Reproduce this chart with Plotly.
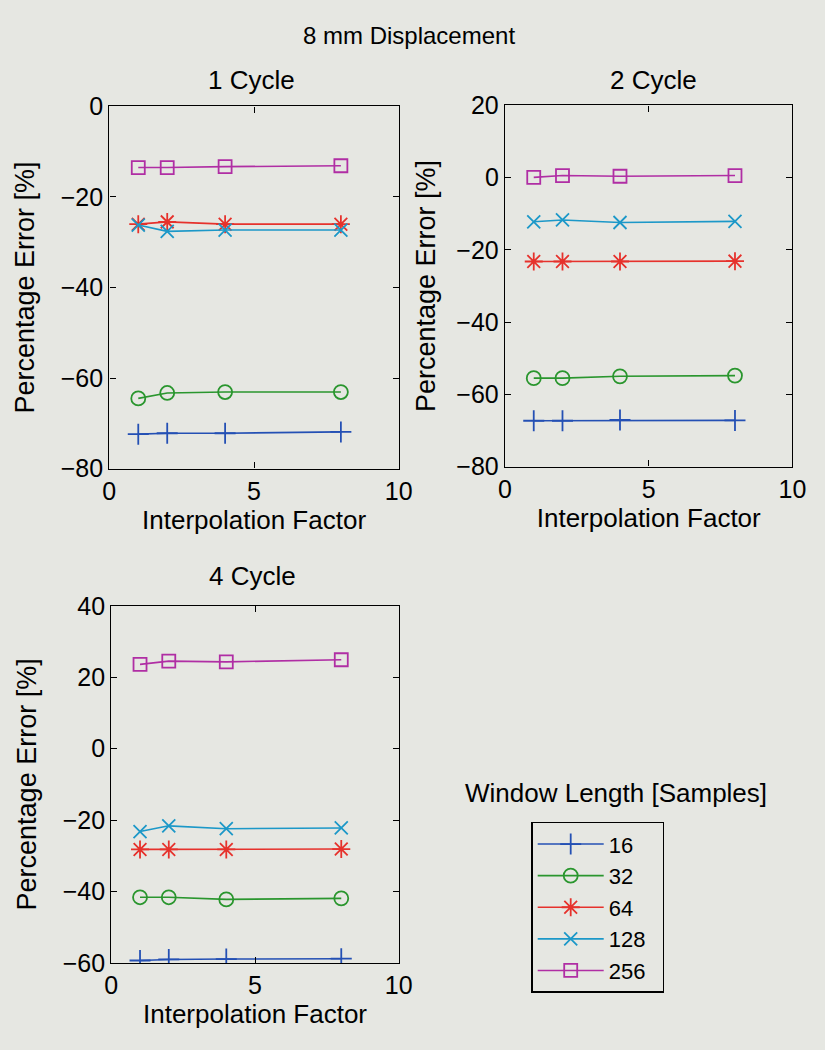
import plotly.graph_objects as go

# Interpolation factors on the x axis
interp = [1, 2, 4, 8]

# Window lengths (samples) and their styles
windows = ["16", "32", "64", "128", "256"]
colors = ["#2450b4", "#2a962e", "#e6322c", "#1c98c8", "#b02ea4"]
symbols = ["cross-thin", "circle-open", "asterisk-open", "x-thin", "square-open"]
marker_sizes = [15, 14, 15, 13, 13]

# Percentage error [%] per window length, 1 cycle
err_1cycle_16 = [-72.4, -72.2, -72.2, -71.9]
err_1cycle_32 = [-64.5, -63.3, -63.1, -63.1]
err_1cycle_64 = [-26.0, -25.5, -26.0, -26.0]
err_1cycle_128 = [-26.2, -27.6, -27.3, -27.3]
err_1cycle_256 = [-13.5, -13.5, -13.3, -13.1]

# 2 cycle
err_2cycle_16 = [-67.3, -67.3, -67.1, -67.2]
err_2cycle_32 = [-55.5, -55.5, -55.0, -54.8]
err_2cycle_64 = [-23.2, -23.2, -23.2, -23.1]
err_2cycle_128 = [-12.2, -11.7, -12.4, -12.1]
err_2cycle_256 = [0.1, 0.6, 0.4, 0.6]

# 4 cycle
err_4cycle_16 = [-59.3, -59.0, -58.9, -58.8]
err_4cycle_32 = [-41.6, -41.6, -42.2, -41.9]
err_4cycle_64 = [-28.2, -28.2, -28.2, -28.1]
err_4cycle_128 = [-23.2, -21.6, -22.4, -22.2]
err_4cycle_256 = [23.6, 24.5, 24.3, 24.9]

panels = [
    ("1 Cycle", "x", "y", [err_1cycle_16, err_1cycle_32, err_1cycle_64, err_1cycle_128, err_1cycle_256]),
    ("2 Cycle", "x2", "y2", [err_2cycle_16, err_2cycle_32, err_2cycle_64, err_2cycle_128, err_2cycle_256]),
    ("4 Cycle", "x3", "y3", [err_4cycle_16, err_4cycle_32, err_4cycle_64, err_4cycle_128, err_4cycle_256]),
]

W, H = 825, 1050
BG = "#e6e7e2"
FONT = "Liberation Sans, Arial, sans-serif"

fig = go.Figure()
for p, (name, xa, ya, series) in enumerate(panels):
    for i, vals in enumerate(series):
        fig.add_trace(go.Scatter(
            x=interp, y=vals, xaxis=xa, yaxis=ya,
            mode="lines+markers", name=windows[i] + "\u00a0\u00a0",
            legendgroup=windows[i], showlegend=(p == 0),
            line=dict(color=colors[i], width=1.6),
            marker=dict(symbol=symbols[i], size=marker_sizes[i], color=colors[i],
                        line=dict(color=colors[i], width=1.8)),
        ))

def px_x(v):
    return v / W

def px_y(v):
    return 1 - v / H

axis_common = dict(
    showgrid=False, zeroline=False, showline=True, linecolor="black",
    linewidth=1.4, mirror="ticks", ticks="inside", ticklen=6,
    tickcolor="black", tickfont=dict(size=25, color="black", family=FONT),
)

# Panel boxes in pixels: (left, right, top, bottom)
boxes = [(105, 402, 95, 467), (511, 806, 94, 465), (107, 402, 608, 975)]
yranges = [[-80, 0], [-80, 20], [-60, 40]]
ystandoff = [18, 12, 18]
layout_axes = {}
for k, (l, r, t, b) in enumerate(boxes):
    sfx = "" if k == 0 else str(k + 1)
    layout_axes["xaxis" + sfx] = dict(
        axis_common, domain=[px_x(l), px_x(r)], range=[0, 10],
        tickvals=[0, 5, 10], anchor="y" + sfx,
        title=dict(text="Interpolation Factor", font=dict(size=26, family=FONT, color="black"), standoff=2),
    )
    layout_axes["yaxis" + sfx] = dict(
        axis_common, domain=[px_y(b), px_y(t)], range=yranges[k],
        dtick=20, anchor="x" + sfx,
        title=dict(text="Percentage Error [%]", font=dict(size=27, family=FONT, color="black"),
                   standoff=ystandoff[k]),
    )

def label(text, x, y, size=26):
    return dict(text=text, x=px_x(x), y=px_y(y), xref="paper", yref="paper",
                xanchor="center", yanchor="middle", showarrow=False,
                font=dict(size=size, family=FONT, color="black"))

annotations = [
    label("8 mm Displacement", 412, 22, 24),
    label("1 Cycle", 251, 68),
    label("2 Cycle", 663, 68),
    label("4 Cycle", 252, 577),
    label("Window Length [Samples]", 625, 800),
]

fig.update_layout(
    width=W, height=H, margin=dict(l=0, r=0, t=0, b=0),
    paper_bgcolor=BG, plot_bgcolor=BG,
    font=dict(family=FONT, color="black"),
    annotations=annotations,
    showlegend=True,
    legend=dict(
        x=px_x(538), y=px_y(830), xanchor="left", yanchor="top",
        bgcolor=BG, bordercolor="black", borderwidth=1.4,
        font=dict(size=22, family=FONT, color="black"),
        tracegroupgap=0, itemwidth=66,
    ),
    **layout_axes,
)

fig.write_html("out.html")
